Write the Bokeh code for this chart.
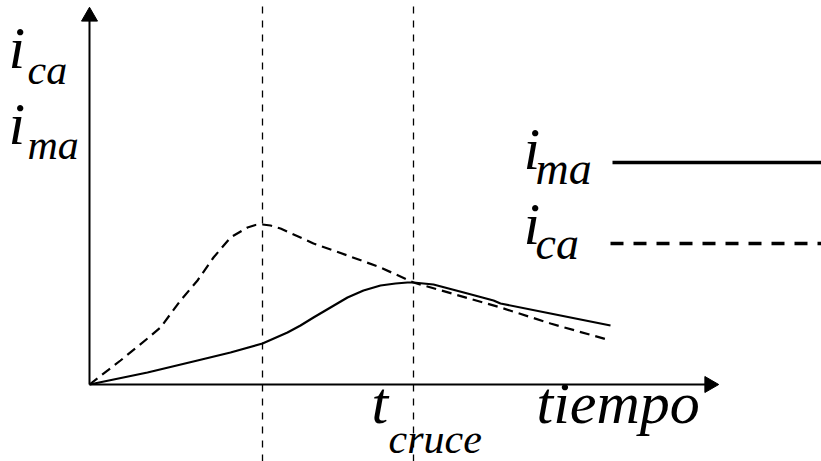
import math
from bokeh.plotting import figure
from bokeh.models import Range1d, Label
from bokeh.embed import file_html
from bokeh.resources import INLINE

# Arbitrary time / current units (schematic chart)
t_ma = [0.0, 5.8, 10.8, 14.1, 17.3, 19.8, 21.1, 22.4, 25.8, 27.4, 29.1, 30.6,
        31.8, 32.4, 34.4, 37.8, 40.4, 41.1, 46.1, 52.1]
i_ma = [0.0, 1.2, 2.4, 3.2, 4.1, 5.2, 5.9, 6.7, 8.7, 9.4, 9.9, 10.1,
        10.2, 10.2, 10.0, 9.1, 8.4, 8.1, 7.1, 5.9]

t_ca = [0.0, 3.1, 5.8, 7.1, 9.1, 10.8, 12.4, 14.1, 15.8, 16.6, 17.3, 18.1,
        19.1, 22.4, 25.8, 29.1, 32.4, 41.1, 46.1, 52.1]
i_ca = [0.0, 2.4, 4.6, 5.7, 8.4, 10.4, 12.7, 14.7, 15.7, 15.95, 16.0, 15.9,
        15.6, 14.1, 12.9, 11.7, 10.2, 7.7, 6.1, 4.4]

t_peak = 17.3    # peak of i_ca
t_cruce = 32.4   # crossing of the two currents

W, H = 821, 461
X0, X1 = -8.9, 73.2
Y0, Y1 = -7.7, 38.4
p = figure(width=W, height=H, output_backend="svg", toolbar_location=None,
           x_range=Range1d(X0, X1), y_range=Range1d(Y0, Y1),
           min_border=0, outline_line_color=None)
p.axis.visible = False
p.grid.visible = False

# axes with arrow heads
x_tip, y_tip = 62.0, 36.8
p.line([0, x_tip], [0, 0], line_color="black", line_width=2)
p.line([0, 0], [0, y_tip], line_color="black", line_width=2)
p.scatter([x_tip], [0], marker="triangle", size=16, angle=-math.pi / 2,
          fill_color="black", line_color="black")
p.scatter([0], [y_tip], marker="triangle", size=16, angle=0,
          fill_color="black", line_color="black")

# reference verticals
p.segment(x0=[t_peak, t_cruce], y0=[Y0, Y0], x1=[t_peak, t_cruce], y1=[Y1, Y1],
          line_color="black", line_width=1.3, line_dash="7 7")

# curves
p.line(t_ma, i_ma, line_color="black", line_width=2.2, line_join="round")
p.line(t_ca, i_ca, line_color="black", line_width=2.2, line_dash="10 6",
       line_join="round")

# legend samples
p.line([52.3, X1], [22.2, 22.2], line_color="black", line_width=3.5)
p.line([52.1, X1], [14.1, 14.1], line_color="black", line_width=3.5,
       line_dash="13 10")


def label(x, y, txt, size):
    # labels placed in screen pixels (origin at bottom-left of the canvas)
    p.add_layout(Label(x=x, y=y, x_units="screen", y_units="screen", text=txt,
                       text_font="Liberation Serif", text_font_style="italic",
                       text_font_size=f"{size}px", text_color="black",
                       text_baseline="bottom", text_align="left"))


def sym(x, y, main, sub, size_main, size_sub, dx, dy):
    label(x, y, main, size_main)
    label(x + dx, y - dy, sub, size_sub)


# y-axis label
sym(8, 381, "i", "ca", 60, 42, 19, 12)
sym(8, 305, "i", "ma", 60, 42, 19, 11)
# legend labels
sym(523, 280, "i", "ma", 60, 46, 12, 12)
sym(523, 205, "i", "ca", 60, 46, 12, 12)
# x-axis labels
sym(371, 26, "t", "cruce", 60, 42, 17, 26)
label(536, 26, "tiempo", 60)

open("out.html", "w").write(file_html(p, INLINE))
